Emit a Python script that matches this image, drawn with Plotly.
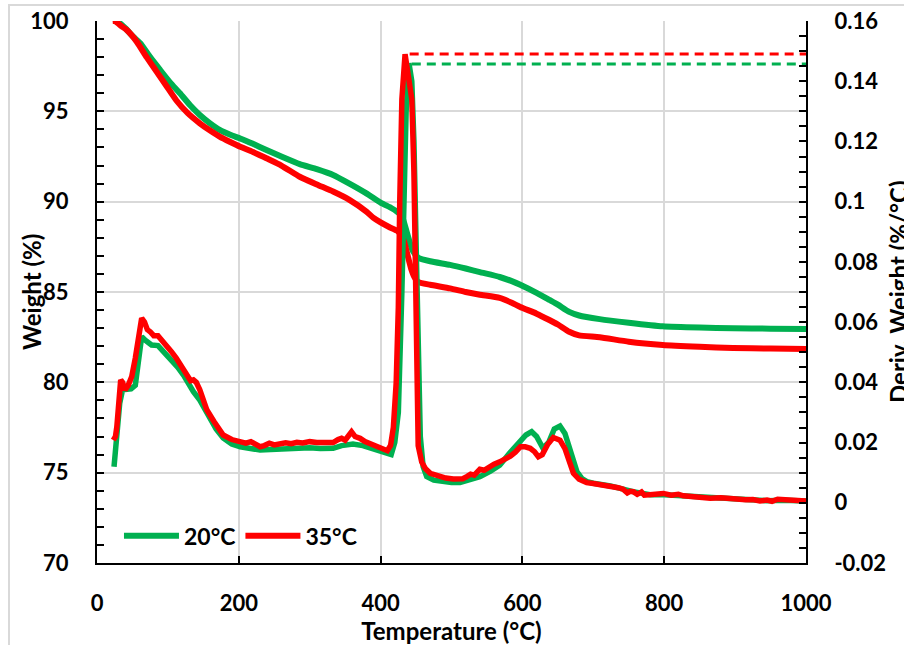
import plotly.graph_objects as go

# ---------------- data ----------------
temp_w20 = [25, 28, 40, 51, 61, 75, 89, 103, 117, 131, 145, 159, 173, 188, 202, 220, 239, 260,
            286, 310, 333, 356, 380, 400, 415, 423, 430, 437, 445, 453, 470, 498, 520, 540, 568,
            585, 597, 620, 638, 650, 666, 680, 709, 750, 798, 850, 897, 950, 1000]
weight_20 = [100.0, 100.0, 99.6, 99.13, 98.77, 98.0, 97.29, 96.6, 96.0, 95.35, 94.8, 94.35, 93.97,
             93.7, 93.5, 93.2, 92.86, 92.5, 92.08, 91.8, 91.48, 91.0, 90.46, 89.95, 89.65, 89.45,
             89.2, 88.3, 87.3, 86.9, 86.7, 86.5, 86.3, 86.1, 85.83, 85.6, 85.4, 84.95, 84.56, 84.3,
             83.9, 83.7, 83.5, 83.3, 83.1, 83.03, 83.0, 82.97, 82.95]

temp_w35 = [22, 25, 35, 42, 56, 70, 84, 98, 112, 128, 145, 159, 173, 188, 202, 220, 239, 260, 286,
            310, 333, 356, 380, 390, 400, 412, 423, 428, 433, 437, 443, 448, 453, 470, 498, 520, 540,
            568, 585, 597, 620, 638, 650, 666, 680, 709, 750, 798, 850, 897, 950, 1000]
weight_35 = [100.0, 100.0, 99.7, 99.5, 98.86, 98.0, 97.2, 96.4, 95.6, 94.9, 94.34, 93.95, 93.6, 93.3,
             93.04, 92.75, 92.4, 92.0, 91.38, 90.95, 90.56, 90.1, 89.45, 89.1, 88.85, 88.6, 88.4,
             88.2, 87.8, 87.2, 86.3, 85.8, 85.55, 85.4, 85.2, 85.0, 84.85, 84.67, 84.4, 84.17, 83.8,
             83.45, 83.2, 82.8, 82.6, 82.5, 82.25, 82.07, 81.97, 81.9, 81.87, 81.85]

temp_d20 = [24, 28, 32, 36, 42, 48, 54, 58, 63, 68, 77, 86, 95, 105, 114, 122, 130, 136, 145, 152,
            159, 168, 178, 190, 202, 215, 230, 245, 258, 275, 290, 300, 315, 333, 345, 361, 375, 390,
            399, 408, 415, 420, 425, 430, 433, 436, 440, 444, 447, 450, 453, 456, 460, 465, 475, 488,
            500, 512, 525, 540, 555, 568, 582, 597, 605, 613, 620, 629, 637, 645, 653, 660, 667, 672,
            677, 684, 691, 700, 724, 756, 780, 800, 827, 850, 865, 897, 945, 968, 1000]
deriv_20 = [0.012, 0.022, 0.033, 0.0375, 0.0377, 0.0378, 0.039, 0.046, 0.0552, 0.054, 0.0524, 0.0522,
            0.050, 0.0474, 0.045, 0.0424, 0.039, 0.0369, 0.0341, 0.031, 0.0282, 0.0245, 0.0215,
            0.0195, 0.0186, 0.018, 0.0175, 0.0177, 0.0179, 0.0182, 0.0183, 0.0183, 0.018, 0.0181,
            0.019, 0.0195, 0.019, 0.0178, 0.017, 0.0162, 0.016, 0.02, 0.03, 0.07, 0.10, 0.13, 0.146,
            0.14, 0.12, 0.09, 0.05, 0.022, 0.012, 0.0087, 0.0075, 0.007, 0.0067, 0.0067, 0.0075,
            0.0087, 0.0105, 0.0125, 0.0165, 0.0203, 0.0225, 0.0236, 0.022, 0.0181, 0.02, 0.0245,
            0.0255, 0.023, 0.0175, 0.013, 0.0103, 0.008, 0.007, 0.0065, 0.0056, 0.0037, 0.0027,
            0.0027, 0.0023, 0.0018, 0.0016, 0.001, 0.0007, 0.0008, 0.0006]

temp_d35 = [23, 26, 28, 31, 33.4, 36, 39.5, 44, 49, 54, 59, 63, 67, 71, 75, 80, 86, 92, 98, 105, 112,
            117, 122, 128, 132, 136, 140, 145, 150, 155, 165, 178, 190, 202, 210, 217, 224, 230, 236,
            243, 250, 258, 266, 274, 282, 290, 300, 310, 320, 333, 340, 345, 350, 355, 359, 364, 371,
            378, 385, 392, 399, 405, 409.5, 414, 418, 422, 425, 427, 430, 434.5, 439, 444, 447, 448,
            449, 451, 453, 458, 463, 470, 478, 484, 492, 502.6, 510, 516, 521.5, 527, 532, 540, 546,
            552, 560, 568, 576, 583, 590, 597, 604, 611, 617, 622.5, 628, 636, 643.6, 653, 660, 666,
            672, 680, 690.6, 700, 710, 724, 735, 742, 748, 752, 756.5, 762, 768, 772, 780, 790,
            798.7, 810, 820, 827, 840, 850, 865, 880, 893, 905, 915, 925, 935, 945, 952, 960, 968,
            975, 985, 1000]
deriv_35 = [0.0208, 0.022, 0.0253, 0.035, 0.0408, 0.040, 0.0375, 0.039, 0.0419, 0.048, 0.056, 0.0613,
            0.060, 0.0575, 0.0568, 0.0555, 0.0555, 0.054, 0.0525, 0.0502, 0.048, 0.046, 0.0441,
            0.0415, 0.0405, 0.0408, 0.040, 0.0375, 0.034, 0.0308, 0.027, 0.0225, 0.021, 0.0203,
            0.0198, 0.0203, 0.0195, 0.0186, 0.019, 0.0198, 0.0192, 0.0195, 0.0199, 0.0196, 0.0201,
            0.0199, 0.0203, 0.020, 0.0201, 0.020, 0.021, 0.0214, 0.0208, 0.0222, 0.0236, 0.022,
            0.0214, 0.0203, 0.0197, 0.019, 0.0186, 0.0178, 0.0173, 0.019, 0.025, 0.04, 0.065, 0.10,
            0.134, 0.149, 0.142, 0.134, 0.11, 0.09, 0.065, 0.035, 0.019, 0.0135, 0.0114, 0.0098,
            0.0092, 0.0087, 0.0082, 0.0079, 0.0082, 0.008, 0.0087, 0.0095, 0.0092, 0.0111, 0.0108,
            0.0118, 0.0128, 0.0136, 0.0145, 0.0155, 0.0168, 0.0186, 0.0186, 0.0181, 0.017, 0.0153,
            0.016, 0.0195, 0.0217, 0.0208, 0.018, 0.014, 0.0098, 0.0078, 0.0067, 0.0064, 0.0061,
            0.0056, 0.005, 0.0045, 0.0033, 0.0038, 0.0037, 0.0028, 0.0036, 0.0025, 0.0026, 0.0028,
            0.0031, 0.0025, 0.0028, 0.0023, 0.0019, 0.0018, 0.0015, 0.0017, 0.0013, 0.0012, 0.001,
            0.0011, 0.0006, 0.0009, 0.0005, 0.0012, 0.0011, 0.0006, 0.0008, 0.0006]

# peak markers (dashed horizontals from peak to end)
peak_x_20, peak_y_20 = [444, 1000], [0.1457, 0.1457]
peak_x_35, peak_y_35 = [441, 1000], [0.149, 0.149]

x_ticks = [0, 200, 400, 600, 800, 1000]
x_ticklabels = ["0", "200", "400", "600", "800", "1000"]
y_ticks = [70, 75, 80, 85, 90, 95, 100]
y_ticklabels = ["70", "75", "80", "85", "90", "95", "100"]
y2_ticks = [-0.02, 0, 0.02, 0.04, 0.06, 0.08, 0.10, 0.12, 0.14, 0.16]
y2_ticklabels = ["-0.02", "0", "0.02", "0.04", "0.06", "0.08", "0.1", "0.12", "0.14", "0.16"]

GREEN = "#00B050"
RED = "#FF0000"

fig = go.Figure()
fig.add_trace(go.Scatter(x=temp_w20, y=weight_20, mode="lines", name="20°C",
                         line=dict(color=GREEN, width=6, shape="spline", smoothing=0.5),
                         yaxis="y"))
fig.add_trace(go.Scatter(x=temp_w35, y=weight_35, mode="lines", name="35°C",
                         line=dict(color=RED, width=6, shape="spline", smoothing=0.5),
                         yaxis="y"))
fig.add_trace(go.Scatter(x=temp_d20, y=deriv_20, mode="lines", showlegend=False,
                         line=dict(color=GREEN, width=5.5), yaxis="y2"))
fig.add_trace(go.Scatter(x=temp_d35, y=deriv_35, mode="lines", showlegend=False,
                         line=dict(color=RED, width=5.5), yaxis="y2"))
fig.add_trace(go.Scatter(x=peak_x_20, y=peak_y_20, mode="lines", showlegend=False,
                         line=dict(color=GREEN, width=3, dash="9px,6px"), yaxis="y2"))
fig.add_trace(go.Scatter(x=peak_x_35, y=peak_y_35, mode="lines", showlegend=False,
                         line=dict(color=RED, width=3, dash="9px,6px"), yaxis="y2"))

tick_common = dict(ticks="inside", ticklen=7, tickwidth=2, tickcolor="black",
                   showline=True, linecolor="black", linewidth=2, zeroline=False,
                   automargin=False)

fig.update_layout(
    width=904, height=645,
    margin=dict(l=97, r=98, t=21, b=82, autoexpand=False),
    paper_bgcolor="white", plot_bgcolor="white",
    font=dict(family="Lato", size=22, color="black", weight="bold"),
    showlegend=True,
    legend=dict(orientation="h", x=0.031, y=0.05, xanchor="left", yanchor="middle",
                bgcolor="rgba(0,0,0,0)", font=dict(size=23), itemwidth=55,
                traceorder="normal"),
    xaxis=dict(range=[0, 1000], tickmode="array", tickvals=x_ticks, ticktext=x_ticklabels,
               showgrid=True, gridcolor="#d9d9d9", gridwidth=2,
               title=dict(text="Temperature (°C)", font=dict(size=24), standoff=2),
               ticklabelstandoff=20, **tick_common),
    yaxis=dict(range=[70, 100], tickmode="array", tickvals=y_ticks, ticktext=y_ticklabels,
               showgrid=True, gridcolor="#d9d9d9", gridwidth=2,
               minor=dict(tickmode="linear", tick0=70, dtick=1, ticks="inside", ticklen=7,
                          tickwidth=2, tickcolor="black", showgrid=False),
               ticklabelstandoff=22, **tick_common),
    yaxis2=dict(range=[-0.02, 0.16], overlaying="y", side="right", tickmode="array",
                tickvals=y2_ticks, ticktext=y2_ticklabels, showgrid=False,
                minor=dict(tickmode="linear", tick0=0, dtick=0.005, ticks="inside", ticklen=7,
                           tickwidth=2, tickcolor="black", showgrid=False),
                ticklabelstandoff=22, **tick_common),
)

# axis titles placed as in the original (the right one runs past the window edge)
fig.add_annotation(text="Weight (%)", xref="paper", yref="paper",
                   x=(31 - 97) / 709, y=0.5, xanchor="center", yanchor="middle",
                   textangle=-90, showarrow=False, font=dict(size=24))
fig.add_annotation(text="Deriv. Weight (%/°C)", xref="paper", yref="paper",
                   x=(898 - 97) / 709, y=0.5, xanchor="center", yanchor="middle",
                   textangle=-90, showarrow=False, font=dict(size=24))

# outer chart-area border (light gray), partly outside the window like the original
fig.add_shape(type="rect", xref="paper", yref="paper",
              x0=(9 - 97) / 709, x1=(915 - 97) / 709,
              y0=(563 - 660) / 542, y1=(563 - 5) / 542,
              line=dict(color="#d9d9d9", width=2), fillcolor="rgba(0,0,0,0)", layer="above")

fig.write_html("out.html", config={"displayModeBar": False},
               post_script="document.body.style.margin='0';document.body.style.overflow='hidden';")
